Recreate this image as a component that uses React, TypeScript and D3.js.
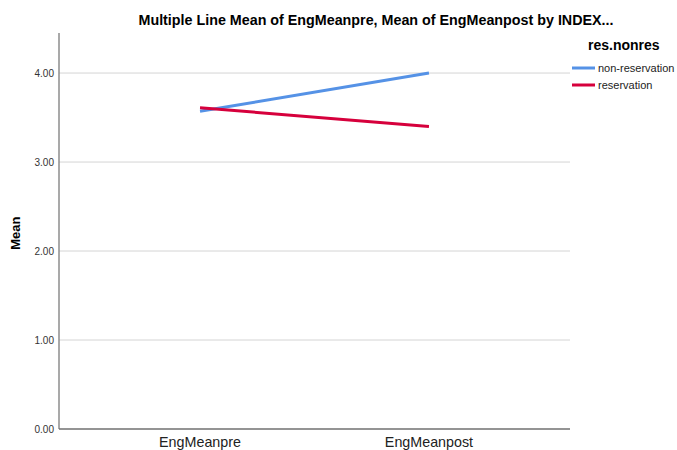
import React from "react";
import * as d3 from "d3";

const categories = ["EngMeanpre", "EngMeanpost"];
const seriesNames = ["non-reservation", "reservation"];
const nonReservation = [3.57, 4.0];
const reservation = [3.61, 3.4];
const seriesColors = ["#5592e6", "#d6003c"];
const yTicks = [0, 1, 2, 3, 4];
const chartTitle = "Multiple Line Mean of EngMeanpre, Mean of EngMeanpost by INDEX...";
const yLabel = "Mean";
const legendTitle = "res.nonres";

export default function App() {
  const W = 677, H = 450;
  const left = 59, right = 570, top = 33, bottom = 429;
  const y = d3.scaleLinear().domain([0, 4.45]).range([bottom, top]);
  const x = d3.scalePoint<string>().domain(categories).range([left, right]).padding(0.616);
  const data = [nonReservation, reservation];
  const line = d3
    .line<number>()
    .x((_, i) => x(categories[i]) as number)
    .y((d) => y(d));
  const font = "'Liberation Sans', Arial, sans-serif";
  return (
    <svg width={W} height={H} style={{ position: "absolute", left: 0, top: 0 }} fontFamily={font}>
      <rect width={W} height={H} fill="#fff" />
      <text x={376} y={25} textAnchor="middle" fontSize={14.3} fontWeight="bold" fill="#000">
        {chartTitle}
      </text>
      {yTicks.map((t) =>
        t > 0 ? (
          <line key={"g" + t} x1={left} x2={right} y1={y(t)} y2={y(t)} stroke="#d4d4d4" strokeWidth={1} />
        ) : null
      )}
      {yTicks.map((t) => (
        <text key={"t" + t} x={left - 5} y={y(t) + 4} textAnchor="end" fontSize={10} fill="#333">
          {t.toFixed(2)}
        </text>
      ))}
      <line x1={left} x2={left} y1={top} y2={bottom} stroke="#8c8c8c" strokeWidth={1.5} />
      <line x1={left} x2={right} y1={bottom} y2={bottom} stroke="#707070" strokeWidth={1.5} />
      <text
        transform={`translate(${20},${y(2.2)}) rotate(-90)`}
        textAnchor="middle"
        fontSize={13}
        fontWeight="bold"
        fill="#000"
      >
        {yLabel}
      </text>
      {categories.map((c) => (
        <text key={c} x={x(c) as number} y={447} textAnchor="middle" fontSize={14.3} fill="#222">
          {c}
        </text>
      ))}
      {data.map((s, i) => (
        <path key={i} d={line(s) || ""} fill="none" stroke={seriesColors[i]} strokeWidth={3} />
      ))}
      <text x={588} y={50} fontSize={14} fontWeight="bold" fill="#000">
        {legendTitle}
      </text>
      {seriesNames.map((n, i) => (
        <g key={n} transform={`translate(572,${68 + i * 17})`}>
          <line x1={0} x2={23} y1={0} y2={0} stroke={seriesColors[i]} strokeWidth={3} />
          <text x={26} y={4} fontSize={11} fill="#222">
            {n}
          </text>
        </g>
      ))}
    </svg>
  );
}
